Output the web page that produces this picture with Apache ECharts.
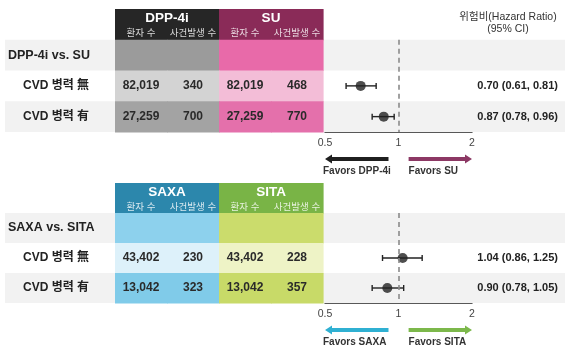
<!DOCTYPE html>
<html>
<head>
<meta charset="utf-8">
<script src="https://cdn.jsdelivr.net/npm/echarts@6/dist/echarts.min.js"></script>
<style>
  html, body { margin: 0; padding: 0; background: #fff; }
  #chart { width: 580px; height: 350px; }
</style>
</head>
<body>
<div id="chart"></div>
<script>
// DPP-4i vs. SU
const groupsTop = ['DPP-4i', 'SU'];
const rowLabelsTop = ['DPP-4i vs. SU', 'CVD 병력 無', 'CVD 병력 有'];
const patientsDPP4i = [82019, 27259];
const eventsDPP4i = [340, 700];
const patientsSU = [82019, 27259];
const eventsSU = [468, 770];
const hrTop = [0.70, 0.87];
const ciLowTop = [0.61, 0.78];
const ciHighTop = [0.81, 0.96];
const favorsTop = ['Favors DPP-4i', 'Favors SU'];

// SAXA vs. SITA
const groupsBottom = ['SAXA', 'SITA'];
const rowLabelsBottom = ['SAXA vs. SITA', 'CVD 병력 無', 'CVD 병력 有'];
const patientsSAXA = [43402, 13042];
const eventsSAXA = [230, 323];
const patientsSITA = [43402, 13042];
const eventsSITA = [228, 357];
const hrBottom = [1.04, 0.90];
const ciLowBottom = [0.86, 0.78];
const ciHighBottom = [1.25, 1.05];
const favorsBottom = ['Favors SAXA', 'Favors SITA'];

const subHeaders = ['환자 수', '사건발생 수'];
const hrTicks = [0.5, 1, 2];
const hrTitle = ['위험비(Hazard Ratio)', '(95% CI)'];

const FONT = "'Liberation Sans', Arial, 'Noto Sans CJK KR', sans-serif";

// arrow spans on the hazard-ratio axis (tail -> head)
const arrowSpans = [[0.91, 0.5], [1.1, 2]];

const panels = [
  {
    top: 9, height: 123,
    groups: groupsTop, rows: rowLabelsTop,
    cols: [patientsDPP4i, eventsDPP4i, patientsSU, eventsSU],
    hr: hrTop, lo: ciLowTop, hi: ciHighTop, favors: favorsTop,
    fills: [['#262626', '#9b9b9b', '#d3d3d3', '#a3a3a3'],
            ['#8a2b58', '#e86aa9', '#f3bdd7', '#e470ab']],
    arrowColors: ['#1f1f1f', '#8c3864']
  },
  {
    top: 183, height: 120,
    groups: groupsBottom, rows: rowLabelsBottom,
    cols: [patientsSAXA, eventsSAXA, patientsSITA, eventsSITA],
    hr: hrBottom, lo: ciLowBottom, hi: ciHighBottom, favors: favorsBottom,
    fills: [['#2c87ac', '#8dd1ed', '#ddf1fa', '#80cbe9'],
            ['#79b446', '#cbdc6c', '#eef3c6', '#c8da68']],
    arrowColors: ['#2fb0d2', '#7cb84b']
  }
];

const grids = [], xAxes = [], yAxes = [], series = [];

panels.forEach((p, pi) => {
  const rowH = p.height / 4;
  const bodyTop = p.top + rowH;
  const bodyH = p.height - rowH;
  const gBand = pi * 3, gTable = pi * 3 + 1, gForest = pi * 3 + 2;

  grids.push({ left: 5, width: 560, top: bodyTop, height: bodyH });
  grids.push({ left: 115, width: 208, top: p.top, height: p.height });
  grids.push({ left: 325, width: 147, top: bodyTop, height: bodyH });

  // row bands + row labels + HR text
  xAxes.push({ gridIndex: gBand, type: 'value', min: 0, max: 1, show: false });
  yAxes.push({ gridIndex: gBand, type: 'category', data: p.rows, inverse: true, show: false });
  // table
  xAxes.push({ gridIndex: gTable, type: 'category', data: ['0', '1', '2', '3'], show: false });
  yAxes.push({ gridIndex: gTable, type: 'category', data: ['head'].concat(p.rows), inverse: true, show: false });
  // forest plot
  xAxes.push({
    gridIndex: gForest, type: 'log', logBase: 2, min: 0.5, max: 2,
    axisLine: { show: true, lineStyle: { color: '#222', width: 1.5 } },
    axisTick: { show: true, inside: true, length: 4, lineStyle: { color: '#222', width: 1.2 } },
    axisLabel: {
      color: '#444', fontSize: 10.5, fontFamily: FONT, margin: 6,
      formatter: v => {
        const t = hrTicks.find(k => Math.abs(k - v) < 1e-6);
        return t === undefined ? '' : String(t);
      }
    },
    splitLine: { show: false }
  });
  yAxes.push({ gridIndex: gForest, type: 'category', data: p.rows, inverse: true, show: false });

  series.push({
    type: 'custom', xAxisIndex: gBand, yAxisIndex: gBand, z: 1, silent: true,
    data: p.rows.map((_, i) => [0, i]),
    renderItem: (params, api) => {
      const r = api.value(1);
      const cs = params.coordSys;
      const cy = api.coord([0, r])[1];
      const h = api.size([0, 1])[1];
      const kids = [];
      if (r !== 1) {
        kids.push({ type: 'rect', shape: { x: cs.x, y: cy - h / 2, width: cs.width, height: h },
                    style: { fill: '#f2f2f2' } });
      }
      kids.push({ type: 'text', style: {
        text: p.rows[r], x: cs.x + (r === 0 ? 3 : 18), y: cy,
        align: 'left', verticalAlign: 'middle',
        fill: '#222', font: `bold ${r === 0 ? 12.5 : 12}px ${FONT}` } });
      if (r > 0) {
        const k = r - 1;
        kids.push({ type: 'text', style: {
          text: `${p.hr[k].toFixed(2)} (${p.lo[k].toFixed(2)}, ${p.hi[k].toFixed(2)})`,
          x: cs.x + cs.width - 7, y: cy, align: 'right', verticalAlign: 'middle',
          fill: '#222', font: `bold 11px ${FONT}` } });
      }
      return { type: 'group', children: kids };
    }
  });

  const cells = [];
  for (let r = 0; r < 4; r++) for (let c = 0; c < 4; c++) cells.push([c, r]);
  series.push({
    type: 'custom', xAxisIndex: gTable, yAxisIndex: gTable, z: 2, silent: true,
    data: cells,
    renderItem: (params, api) => {
      const c = api.value(0), r = api.value(1);
      const ctr = api.coord([c, r]);
      const sz = api.size([1, 1]);
      const x = ctr[0] - sz[0] / 2, y = ctr[1] - sz[1] / 2;
      const g = Math.floor(c / 2);
      const kids = [{ type: 'rect', shape: { x: x, y: y, width: sz[0] + 0.6, height: sz[1] + 0.6 },
                      style: { fill: p.fills[g][r] } }];
      if (r === 0) {
        kids.push({ type: 'text', style: { text: subHeaders[c % 2], x: ctr[0], y: y + 24,
          align: 'center', verticalAlign: 'middle', fill: 'rgba(255,255,255,0.82)', font: `9.5px ${FONT}` } });
      } else if (r >= 2) {
        kids.push({ type: 'text', style: { text: p.cols[c][r - 2].toLocaleString('en-US'), x: ctr[0], y: ctr[1],
          align: 'center', verticalAlign: 'middle', fill: '#2a2a2a', font: `bold 12px ${FONT}` } });
      }
      return { type: 'group', children: kids };
    }
  });

  // group titles spanning two columns each
  series.push({
    type: 'custom', xAxisIndex: gTable, yAxisIndex: gTable, z: 3, silent: true,
    data: p.groups.map((_, g) => [g * 2, g * 2 + 1, 0]),
    renderItem: (params, api) => {
      const a = api.coord([api.value(0), 0]);
      const b = api.coord([api.value(1), 0]);
      const h = api.size([1, 1])[1];
      return { type: 'text', style: {
        text: p.groups[params.dataIndex], x: (a[0] + b[0]) / 2, y: a[1] - h / 2 + 9,
        align: 'center', verticalAlign: 'middle', fill: '#fff', font: `bold 13.5px ${FONT}` } };
    }
  });

  // confidence intervals
  series.push({
    type: 'custom', xAxisIndex: gForest, yAxisIndex: gForest, z: 3, silent: true,
    data: p.lo.map((l, i) => [l, p.hi[i], i + 1]),
    renderItem: (params, api) => {
      const a = api.coord([api.value(0), api.value(2)]);
      const b = api.coord([api.value(1), api.value(2)]);
      const st = { stroke: '#222', lineWidth: 1.4 };
      return { type: 'group', children: [
        { type: 'line', shape: { x1: a[0], y1: a[1], x2: b[0], y2: b[1] }, style: st },
        { type: 'line', shape: { x1: a[0], y1: a[1] - 3, x2: a[0], y2: a[1] + 3 }, style: st },
        { type: 'line', shape: { x1: b[0], y1: b[1] - 3, x2: b[0], y2: b[1] + 3 }, style: st }
      ] };
    }
  });

  // point estimates + reference line at HR = 1
  series.push({
    type: 'scatter', xAxisIndex: gForest, yAxisIndex: gForest, z: 4, silent: true,
    symbolSize: 10, itemStyle: { color: '#222' },
    data: p.hr.map((v, i) => [v, i + 1]),
    markLine: {
      silent: true, symbol: 'none', label: { show: false },
      lineStyle: { color: '#8a8a8a', type: [5, 4], width: 1.6 },
      data: [{ xAxis: 1 }]
    }
  });

  // "Favors" arrows below the axis
  series.push({
    type: 'custom', xAxisIndex: gForest, yAxisIndex: gForest, z: 3, silent: true, clip: false,
    data: arrowSpans.map((s, i) => [s[0], s[1], i]),
    renderItem: (params, api) => {
      const cs = params.coordSys;
      const i = api.value(2);
      const x1 = api.coord([api.value(0), 1])[0];
      const x2 = api.coord([api.value(1), 1])[0];
      const y = cs.y + cs.height + 27;
      const dir = x2 > x1 ? 1 : -1;
      const headLen = 7, half = 4.5, th = 2;
      const xb = x2 - dir * headLen;
      const col = p.arrowColors[i];
      return { type: 'group', children: [
        { type: 'polygon', shape: { points: [
            [x1, y - th], [xb, y - th], [xb, y - half], [x2, y], [xb, y + half], [xb, y + th], [x1, y + th]
          ] }, style: { fill: col } },
        { type: 'text', style: { text: p.favors[i], x: Math.min(x1, x2) + (dir < 0 ? -2 : 0), y: y + 12,
          align: 'left', verticalAlign: 'middle', fill: '#333', font: `bold 10px ${FONT}` } }
      ] };
    }
  });
});

const chart = echarts.init(document.getElementById('chart'), null, { renderer: 'canvas' });
chart.setOption({
  animation: false,
  backgroundColor: '#fff',
  grid: grids,
  xAxis: xAxes,
  yAxis: yAxes,
  graphic: [{
    type: 'text', x: 508, y: 11,
    style: { text: hrTitle.join('\n'), align: 'center', fill: '#333', font: `10.5px ${FONT}`, lineHeight: 12 }
  }],
  series: series
});
</script>
</body>
</html>
